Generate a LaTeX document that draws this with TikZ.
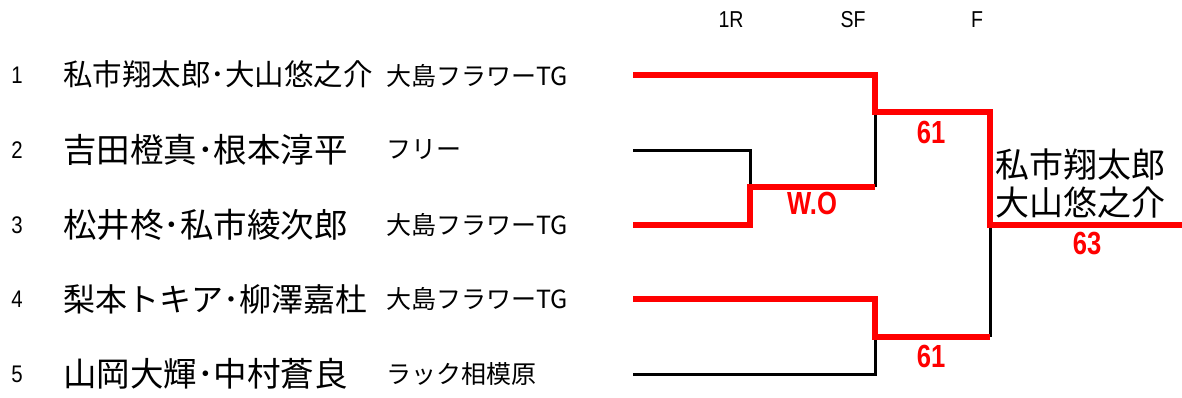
\documentclass[tikz,border=0pt]{standalone}
\usepackage{fontspec}
\setmainfont{Noto Sans CJK JP}
\newfontfamily\latinf[FakeStretch=0.85]{Liberation Sans}
\newfontfamily\scoref[FakeStretch=0.8]{Liberation Sans}
\definecolor{winred}{HTML}{FF0000}
\begin{document}
\begin{tikzpicture}[x=1pt,y=-1pt,
  every node/.style={inner sep=0pt,outer sep=0pt},
  numtxt/.style={font=\latinf\fontsize{24}{24}\selectfont},
  headtxt/.style={font=\latinf\fontsize{23}{23}\selectfont},
  nametxt/.style={anchor=west,font=\fontsize{33.5}{33.5}\selectfont},
  clubtxt/.style={anchor=west,font=\fontsize{25}{25}\selectfont},
  scoretxt/.style={text=winred,font=\scoref\bfseries\fontsize{32}{32}\selectfont},
  winline/.style={draw=winred,line width=5.5pt},
  loseline/.style={draw=black,line width=3pt}]
\useasboundingbox (0,0) rectangle (1182,397);
% headers
\node[headtxt] (h1) at (731,20) {1R};
\node[headtxt] (h2) at (853,20) {SF};
\node[headtxt] (h3) at (977,20) {F};
% entries
\node[numtxt] (n1) at (17,75) {1};
\node[numtxt] (n2) at (17,150) {2};
\node[numtxt] (n3) at (17,225) {3};
\node[numtxt] (n4) at (17,299) {4};
\node[numtxt] (n5) at (17,374) {5};
\node[nametxt,font=\fontsize{29.5}{29.5}\selectfont] (p1) at (63,74) {私市翔太郎･大山悠之介};
\node[nametxt] (p2) at (63,150) {吉田橙真･根本淳平};
\node[nametxt] (p3) at (63,225) {松井柊･私市綾次郎};
\node[nametxt,font=\fontsize{32}{32}\selectfont] (p4) at (63,299) {梨本トキア･柳澤嘉杜};
\node[nametxt] (p5) at (63,374) {山岡大輝･中村蒼良};
\node[clubtxt] (c1) at (386,76) {大島フラワーTG};
\node[clubtxt] (c2) at (386,150) {フリー};
\node[clubtxt] (c3) at (386,225) {大島フラワーTG};
\node[clubtxt] (c4) at (386,299) {大島フラワーTG};
\node[clubtxt] (c5) at (386,374) {ラック相模原};
% bracket coordinates
\coordinate (l1) at (633,75);
\coordinate (l2) at (633,150);
\coordinate (l3) at (633,225);
\coordinate (l4) at (633,299);
\coordinate (l5) at (633,374);
\coordinate (r1a) at (750,150);
\coordinate (r1b) at (750,225);
\coordinate (r1w) at (750,187);
\coordinate (sfa) at (875,112);
\coordinate (sfb) at (875,187);
\coordinate (sfc) at (875,337);
\coordinate (fa) at (990,112);
\coordinate (fb) at (990,337);
\coordinate (fw) at (990,225);
\coordinate (champ) at (1182,225);
% losing lines
\draw[loseline] (l2) -- (r1a) -- (r1w);
\draw[loseline] (sfa) -- (sfb);
\draw[loseline] (l5) -| (sfc);
\draw[loseline] (fw) -- (fb);
% winning lines
\draw[winline] (l3) -- (r1b) -- (r1w) -- (sfb);
\draw[winline] (l1) -| (sfa) -- (fa) -- (fw) -- (champ);
\draw[winline] (l4) -| (sfc) -- (fb);
% scores
\node[scoretxt] (s1) at (812,203) {W.O};
\node[scoretxt] (s2) at (931,132) {61};
\node[scoretxt] (s3) at (931,356) {61};
\node[scoretxt] (s4) at (1087,244) {63};
% winner
\node[nametxt,font=\fontsize{34}{34}\selectfont] (w1) at (995,165) {私市翔太郎};
\node[nametxt,font=\fontsize{34}{34}\selectfont] (w2) at (995,203) {大山悠之介};
\end{tikzpicture}
\end{document}
